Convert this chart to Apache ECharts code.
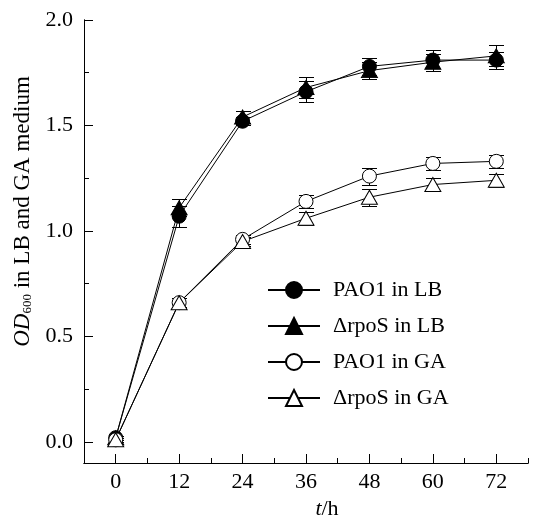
<!DOCTYPE html>
<html>
<head>
<meta charset="utf-8">
<script src="https://cdn.jsdelivr.net/npm/echarts@6/dist/echarts.min.js"></script>
<style>
html,body{margin:0;padding:0;background:#fff;}
#c{width:536px;height:518px;}
</style>
</head>
<body>
<div id="c"></div>
<script>
var hours = [0, 12, 24, 36, 48, 60, 72];
var xLabelTicks = [0, 12, 24, 36, 48, 60, 72];
var yLabelTicks = [0, 0.5, 1.0, 1.5, 2.0];
var yMinorTicks = [0, 0.25, 0.5, 0.75, 1.0, 1.25, 1.5, 1.75, 2.0];
var seriesNames = ['PAO1 in LB', '\u0394rpoS in LB', 'PAO1 in GA', '\u0394rpoS in GA'];
var pao1LB = [0.02, 1.07, 1.52, 1.66, 1.78, 1.81, 1.81];
var pao1LBErr = [0.01, 0.05, 0.02, 0.05, 0.04, 0.05, 0.04];
var rpoSLB = [0.02, 1.11, 1.54, 1.68, 1.76, 1.80, 1.83];
var rpoSLBErr = [0.01, 0.04, 0.03, 0.05, 0.04, 0.04, 0.05];
var pao1GA = [0.01, 0.66, 0.96, 1.14, 1.26, 1.32, 1.33];
var pao1GAErr = [0.01, 0.02, 0.02, 0.03, 0.04, 0.03, 0.03];
var rpoSGA = [0.01, 0.66, 0.95, 1.06, 1.16, 1.22, 1.24];
var rpoSGAErr = [0.01, 0.02, 0.02, 0.03, 0.04, 0.03, 0.03];

var FONT = '"Liberation Serif", "Times New Roman", serif';
var chart = echarts.init(document.getElementById('c'), null, {renderer: 'canvas'});

function pts(vals) { return hours.map(function (h, i) { return [h, vals[i]]; }); }
function errData(vals, errs) { return hours.map(function (h, i) { return [h, vals[i] - errs[i], vals[i] + errs[i]]; }); }

function errSeries(vals, errs) {
  return {
    type: 'custom',
    z: 1,
    silent: true,
    data: errData(vals, errs),
    encode: {x: 0, y: [1, 2]},
    renderItem: function (params, api) {
      var x = api.value(0);
      var lo = api.coord([x, api.value(1)]);
      var hi = api.coord([x, api.value(2)]);
      var cx = Math.round(lo[0]) + 0.5;
      var yl = Math.round(lo[1]) + 0.5;
      var yh = Math.round(hi[1]) + 0.5;
      var hw = 7.5;
      var st = {stroke: '#000', lineWidth: 1};
      return {
        type: 'group',
        children: [
          {type: 'line', shape: {x1: cx, y1: yl, x2: cx, y2: yh}, style: st},
          {type: 'line', shape: {x1: cx - hw, y1: yl, x2: cx + hw, y2: yl}, style: st},
          {type: 'line', shape: {x1: cx - hw, y1: yh, x2: cx + hw, y2: yh}, style: st}
        ]
      };
    }
  };
}

function lineSeries(name, vals, symbol, size, filled) {
  return {
    name: name,
    type: 'line',
    z: 3,
    data: pts(vals),
    symbol: symbol,
    symbolSize: size,
    showAllSymbol: true,
    lineStyle: {color: '#000', width: 1},
    itemStyle: {color: filled ? '#000' : '#fff', borderColor: '#000', borderWidth: 1},
    emphasis: {disabled: true}
  };
}

var axisBase = {
  type: 'value',
  axisLine: {show: true, onZero: false, lineStyle: {color: '#000', width: 1}},
  splitLine: {show: false}
};

var option = {
  animation: false,
  backgroundColor: '#fff',
  grid: {left: 84, right: 8, top: 20, bottom: 55, containLabel: false, outerBoundsMode: 'none'},
  legend: {
    orient: 'vertical',
    left: 262,
    top: 274,
    itemWidth: 52,
    itemHeight: 20,
    itemGap: 14,
    data: seriesNames,
    textStyle: {fontFamily: FONT, fontSize: 22, color: '#000', lineHeight: 20, padding: [0, 0, 0, 8]}
  },
  xAxis: [
    Object.assign({}, axisBase, {
      min: -6, max: 78, interval: 6,
      axisTick: {show: true, inside: true, length: 5, lineStyle: {color: '#000'}},
      axisLabel: {show: false}
    }),
    Object.assign({}, axisBase, {
      position: 'bottom', offset: 0,
      min: -6, max: 78,
      axisTick: {show: true, inside: true, length: 9, customValues: xLabelTicks, lineStyle: {color: '#000'}},
      axisLabel: {show: true, customValues: xLabelTicks, fontFamily: FONT, fontSize: 22, color: '#000', margin: 8},
      name: '{i|t}/h',
      nameLocation: 'middle',
      nameGap: 33,
      nameTextStyle: {fontFamily: FONT, fontSize: 22, color: '#000', padding: [0, 0, 0, 42],
        rich: {i: {fontFamily: FONT, fontSize: 22, fontStyle: 'italic', color: '#000'}}}
    })
  ],
  yAxis: [
    Object.assign({}, axisBase, {
      min: -0.1, max: 2.0,
      axisTick: {show: true, inside: true, length: 5, customValues: yMinorTicks, lineStyle: {color: '#000'}},
      axisLabel: {show: false}
    }),
    Object.assign({}, axisBase, {
      position: 'left', offset: 0,
      min: -0.1, max: 2.0,
      axisTick: {show: true, inside: true, length: 9, customValues: yLabelTicks, lineStyle: {color: '#000'}},
      axisLabel: {show: true, customValues: yLabelTicks, fontFamily: FONT, fontSize: 22, color: '#000', margin: 11,
        formatter: function (v) { return v.toFixed(1); }},
      name: '{i|OD}{s|600} in LB and GA medium',
      nameLocation: 'middle',
      nameRotate: 90,
      nameGap: 44,
      nameTextStyle: {fontFamily: FONT, fontSize: 23, color: '#000', padding: [0, 0, 0, 60],
        rich: {
          i: {fontFamily: FONT, fontSize: 23, fontStyle: 'italic', color: '#000'},
          s: {fontFamily: FONT, fontSize: 13, color: '#000', padding: [8, 0, 0, 0]}
        }}
    })
  ],
  series: [
    errSeries(pao1LB, pao1LBErr),
    errSeries(rpoSLB, rpoSLBErr),
    errSeries(pao1GA, pao1GAErr),
    errSeries(rpoSGA, rpoSGAErr),
    lineSeries(seriesNames[0], pao1LB, 'circle', 14, true),
    lineSeries(seriesNames[1], rpoSLB, 'triangle', [16, 14], true),
    lineSeries(seriesNames[2], pao1GA, 'circle', 14, false),
    lineSeries(seriesNames[3], rpoSGA, 'triangle', [16, 14], false)
  ]
};
chart.setOption(option);
</script>
</body>
</html>
